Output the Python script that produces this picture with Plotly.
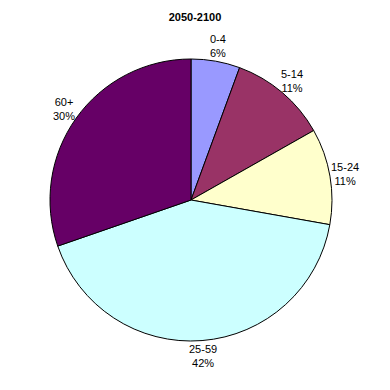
import math
import plotly.graph_objects as go

categories = ["0-4", "5-14", "15-24", "25-59", "60+"]
values = [5.6, 11.2, 11.0, 41.9, 30.3]
colors = ["#9999FF", "#993366", "#FFFFCC", "#CCFFFF", "#660066"]

W = H = 390
cx, cy, R = 191, 200, 141
label_dist = 156

fig = go.Figure(go.Pie(
    labels=categories,
    values=values,
    sort=False,
    direction="clockwise",
    rotation=0,
    marker=dict(colors=colors, line=dict(color="#000000", width=1)),
    textinfo="none",
    domain=dict(x=[(cx - R) / W, (cx + R) / W], y=[1 - (cy + R) / H, 1 - (cy - R) / H]),
    showlegend=False,
    hoverinfo="none",
))

total = sum(values)
cum = 0.0
annotations = []
for cat, v in zip(categories, values):
    mid = (cum + v / 2) / total * 2 * math.pi
    cum += v
    px = cx + label_dist * math.sin(mid)
    py = cy - label_dist * math.cos(mid)
    annotations.append(dict(
        x=px / W, y=1 - py / H, xref="paper", yref="paper",
        text=f"{cat}<br>{round(v / total * 100)}%",
        showarrow=False, xanchor="center", yanchor="middle", align="center",
        font=dict(family="Liberation Sans, Arial", size=11, color="#000000"),
    ))

fig.update_layout(
    width=W, height=H,
    margin=dict(l=0, r=0, t=0, b=0),
    paper_bgcolor="white",
    plot_bgcolor="white",
    annotations=annotations,
    title=dict(text="<b>2050-2100</b>", x=0.5, xanchor="center", y=1 - 17 / H, yanchor="middle",
               font=dict(family="Liberation Sans, Arial", size=11, color="#000000")),
)

fig.write_html("out.html")
